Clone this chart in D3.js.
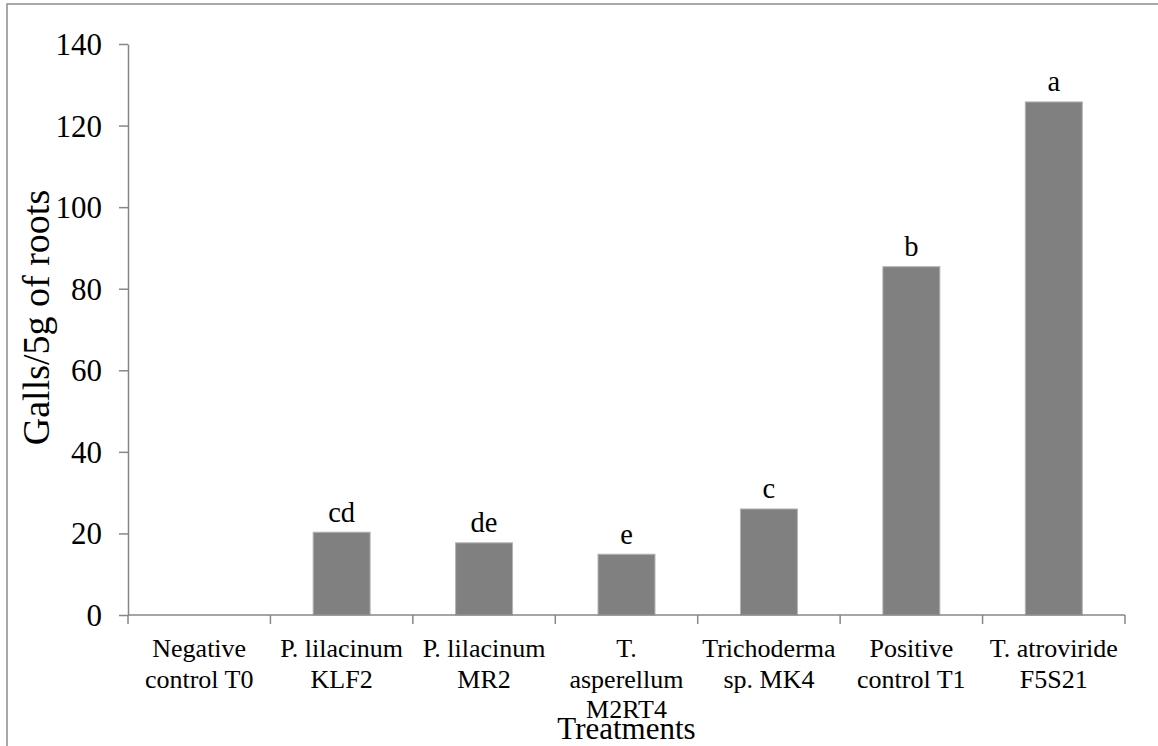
<html><head><meta charset="utf-8"><script src="https://cdn.jsdelivr.net/npm/d3@7/dist/d3.min.js"></script></head>
<body style="margin:0">
<svg id="chart" width="1158" height="746"></svg>
<script>
// ---- data ----
const categories = [
  ["Negative", "control T0"],
  ["P. lilacinum", "KLF2"],
  ["P. lilacinum", "MR2"],
  ["T.", "asperellum", "M2RT4"],
  ["Trichoderma", "sp. MK4"],
  ["Positive", "control T1"],
  ["T. atroviride", "F5S21"]
];
const values = [0, 20.3, 17.7, 14.9, 26.0, 85.4, 125.8];
const letters = ["", "cd", "de", "e", "c", "b", "a"];
const yTicks = [0, 20, 40, 60, 80, 100, 120, 140];
const yTitle = "Galls/5g of roots";
const xTitle = "Treatments";

// ---- layout ----
(function () {
const FONT = "Liberation Serif";
const svg = d3.select("#chart");
const mLeft = 128, mRight = 1125, mTop = 44, mBottom = 615;
const axisColor = "#878787";

// outer frame
svg.append("rect")
  .attr("x", 7).attr("y", 4)
  .attr("width", 1200).attr("height", 800)
  .attr("fill", "none").attr("stroke", "#8c8c8c").attr("stroke-width", 1.5);

const keys = categories.map((c, i) => i);
const x = d3.scaleBand().domain(keys).range([mLeft, mRight]).paddingInner(0.6).paddingOuter(0.3);
const y = d3.scaleLinear().domain([0, 140]).range([mBottom, mTop]);

// bars
svg.append("g").selectAll("rect")
  .data(values)
  .join("rect")
  .attr("x", (d, i) => x(i))
  .attr("width", x.bandwidth())
  .attr("y", d => y(d))
  .attr("height", d => y(0) - y(d))
  .attr("fill", "#808080")
  .attr("stroke", "#b4b4b4")
  .attr("stroke-width", 1);

// significance letters
svg.append("g").selectAll("text")
  .data(values)
  .join("text")
  .attr("font-family", FONT)
  .attr("x", (d, i) => x(i) + x.bandwidth() / 2)
  .attr("y", d => y(d) - 10.5)
  .attr("text-anchor", "middle")
  .attr("font-size", 28.5)
  .attr("fill", "#000")
  .text((d, i) => letters[i]);

// y axis
const yAxis = d3.axisLeft(y).tickValues(yTicks).tickSize(9).tickPadding(17).tickSizeOuter(0);
const gy = svg.append("g").attr("transform", `translate(${mLeft},0)`).call(yAxis);
gy.attr("font-family", FONT);
gy.select(".domain").attr("stroke", axisColor).attr("stroke-width", 1.5);
gy.selectAll(".tick line").attr("stroke", axisColor).attr("stroke-width", 1.5);
gy.selectAll(".tick text")
  .attr("font-family", FONT)
  .attr("font-size", 31)
  .attr("fill", "#000")
  .attr("dy", "0.34em");

// x axis (line + boundary ticks)
const xLine = svg.append("g");
xLine.append("line")
  .attr("x1", mLeft).attr("x2", mRight)
  .attr("y1", y(0)).attr("y2", y(0))
  .attr("stroke", axisColor).attr("stroke-width", 1.5);
const bounds = keys.map(i => x(i) - x.step() * x.paddingInner() / 2).concat([mRight]);
bounds[0] = mLeft;
xLine.selectAll("line.tk")
  .data(bounds)
  .join("line")
  .attr("class", "tk")
  .attr("x1", d => d).attr("x2", d => d)
  .attr("y1", y(0)).attr("y2", y(0) + 9)
  .attr("stroke", axisColor).attr("stroke-width", 1.5);

// category labels (one text per line)
categories.forEach((lines, i) => {
  lines.forEach((line, j) => {
    svg.append("text")
      .attr("font-family", FONT)
      .attr("text-anchor", "middle")
      .attr("font-size", 26)
      .attr("fill", "#000")
      .attr("x", x(i) + x.bandwidth() / 2)
      .attr("y", y(0) + 42 + j * 30.5)
      .text(line);
  });
});

// axis titles
svg.append("text")
  .attr("font-family", FONT)
  .attr("x", (mLeft + mRight) / 2)
  .attr("y", 739)
  .attr("text-anchor", "middle")
  .attr("font-size", 31)
  .attr("fill", "#000")
  .text(xTitle);

svg.append("text")
  .attr("font-family", FONT)
  .attr("transform", `translate(49,${(mTop + mBottom) / 2 - 12}) rotate(-90)`)
  .attr("text-anchor", "middle")
  .attr("font-size", 38)
  .attr("fill", "#000")
  .text(yTitle);
})();
</script>
</body></html>
